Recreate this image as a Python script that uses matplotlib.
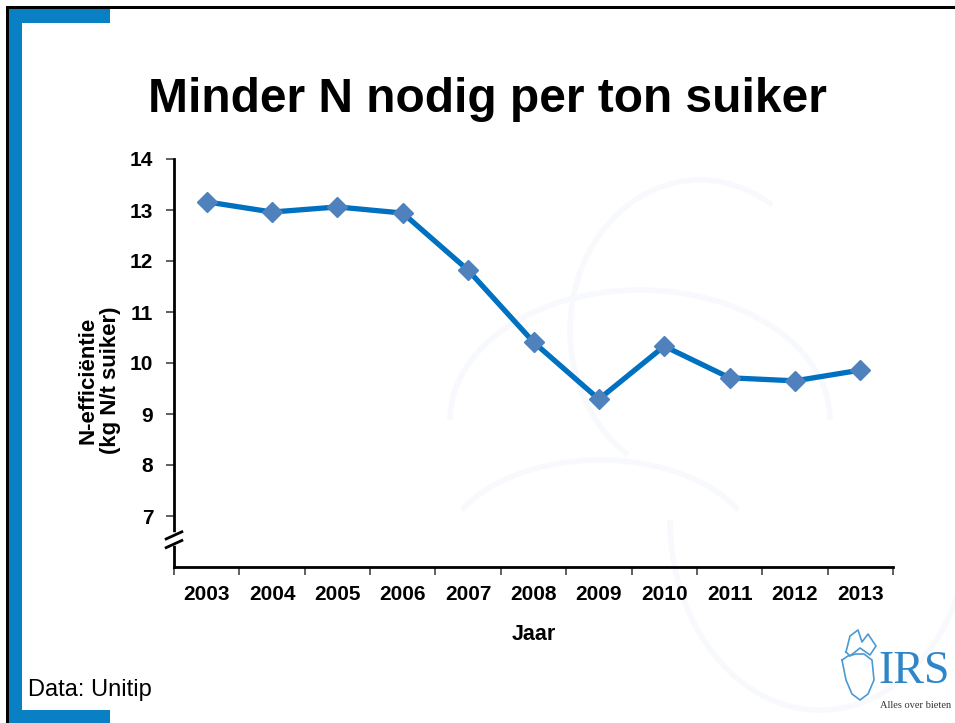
import numpy as np
import matplotlib
matplotlib.use('Agg')
import matplotlib.pyplot as plt
from matplotlib.patches import Rectangle, Arc

plt.rcParams['font.family'] = ['Liberation Sans', 'DejaVu Sans']

jaren = ['2003', '2004', '2005', '2006', '2007', '2008', '2009', '2010', '2011', '2012', '2013']
n_eff = [13.16, 12.96, 13.06, 12.94, 11.82, 10.41, 9.29, 10.33, 9.71, 9.65, 9.86]
y_ticks = [7, 8, 9, 10, 11, 12, 13, 14]

W, H = 955, 723
fig = plt.figure(figsize=(W / 100, H / 100), dpi=100)


def px_rect(x0, y0, x1, y1, color):
    # rechthoek in pixels (boven-links oorsprong)
    fig.add_artist(Rectangle((x0 / W, 1 - y1 / H), (x1 - x0) / W, (y1 - y0) / H,
                             transform=fig.transFigure, color=color, lw=0, zorder=0))


# kader van de dia
blauw = '#0A80C4'
px_rect(7, 6, W, 9, 'black')
px_rect(6, 6, 9, H, 'black')
px_rect(9, 9, 22, H, blauw)
px_rect(9, 9, 110, 23, blauw)
px_rect(9, 710, 110, H, blauw)

# vage watermerk-bogen op de achtergrond
bg = fig.add_axes([0, 0, 1, 1], zorder=-1)
bg.set_xlim(0, W)
bg.set_ylim(H, 0)
bg.axis('off')
for (cx, cy, w, h, t1, t2) in [(640, 420, 380, 260, 180, 360), (700, 330, 260, 300, 120, 300),
                               (820, 520, 300, 380, 0, 180), (600, 560, 320, 200, 200, 340)]:
    bg.add_patch(Arc((cx, cy), w, h, theta1=t1, theta2=t2, color='#F7F9FC', lw=4))

fig.text(487 / W, 1 - 100 / H, 'Minder N nodig per ton suiker', ha='center', va='center',
         fontsize=34.5, fontweight='bold')

ax = fig.add_axes([174 / W, 1 - 567 / H, 719 / W, 408 / H])
ax.patch.set_alpha(0)
x = np.arange(len(jaren))
ax.plot(x, n_eff, color='#0070C0', lw=3.8, marker='D', markersize=10,
        markerfacecolor='#4F81BD', markeredgecolor='#4F81BD', zorder=3)

ax.set_xlim(-0.5, len(jaren) - 0.5)
ax.set_ylim(6, 14)
ax.set_yticks(y_ticks)
ax.set_yticklabels([str(v) for v in y_ticks], fontsize=15, fontweight='bold')
ax.set_xticks(x)
ax.set_xticklabels(jaren, fontsize=15, fontweight='bold')
ax.set_xticks(np.arange(-0.5, len(jaren)), minor=True)
ax.tick_params(axis='x', which='major', length=0, pad=13)
ax.tick_params(axis='x', which='minor', length=6, width=1.2, direction='out', color='#444444')
ax.tick_params(axis='y', length=6, width=1.2, direction='out', pad=9, color='#444444')
for s in ['top', 'right']:
    ax.spines[s].set_visible(False)
for s in ['left', 'bottom']:
    ax.spines[s].set_linewidth(2)
    ax.spines[s].set_color('black')

# asbreuk
ax.plot([-0.5, -0.5], [6.47, 6.62], color='white', lw=4, clip_on=False, zorder=4)
for yb in [6.45, 6.62]:
    ax.plot([-0.62, -0.38], [yb - 0.07, yb + 0.07], color='black', lw=2, clip_on=False, zorder=5)

ax.set_xlabel('Jaar', fontsize=15.5, fontweight='bold', labelpad=14)
fig.text(99 / W, 1 - 380 / H, 'N-efficiëntie\n(kg N/t suiker)', rotation=90, ha='center', va='center',
         fontsize=16, fontweight='bold', linespacing=1.1)

fig.text(28 / W, 1 - 690 / H, 'Data: Unitip', ha='left', va='center', fontsize=17)

# IRS logo
fig.text(914 / W, 1 - 672 / H, 'IRS', ha='center', va='center', fontsize=33,
         family='Liberation Serif', color='#2E86C8')
fig.text(916 / W, 1 - 706 / H, 'Alles over bieten', ha='center', va='center', fontsize=7.5,
         family='Liberation Serif', color='#333333')
lx = np.array([842, 846, 852, 860, 868, 874, 872, 864, 856, 848, 842]) / W
ly = 1 - np.array([660, 680, 694, 700, 694, 680, 660, 654, 654, 656, 660]) / H
fig.add_artist(plt.Line2D(lx, ly, transform=fig.transFigure, color='#4A9AD4', lw=1.2))
fig.add_artist(plt.Line2D(np.array([846, 850, 858, 862, 868, 876, 870, 860, 850, 846]) / W,
                          1 - np.array([652, 636, 630, 642, 634, 646, 655, 648, 656, 652]) / H,
                          transform=fig.transFigure, color='#4A9AD4', lw=1.2))

fig.savefig('out.png', dpi=100)
